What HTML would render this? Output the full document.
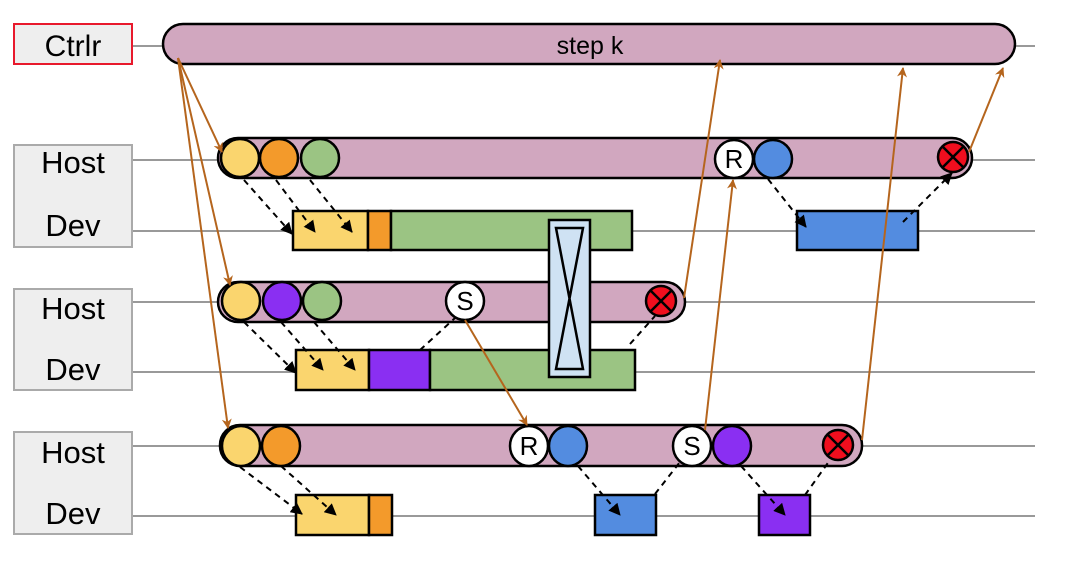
<!DOCTYPE html>
<html><head><style>body{margin:0;background:#fff}svg{display:block}</style></head><body>
<svg width="1080" height="577" viewBox="0 0 1080 577" xmlns="http://www.w3.org/2000/svg" font-family="Liberation Sans, sans-serif">
<defs>
<marker id="ab" markerWidth="10" markerHeight="10" refX="9" refY="5" orient="auto" markerUnits="userSpaceOnUse"><path d="M0,0 L10,5 L0,10 L3,5 Z" fill="#b5651d"/></marker>
<marker id="ak" markerWidth="12" markerHeight="12" refX="11" refY="6" orient="auto" markerUnits="userSpaceOnUse"><path d="M0,0 L12,6 L0,12 Z" fill="#000"/></marker>
</defs>
<g stroke="#999" stroke-width="2">
<line x1="132" y1="46" x2="1035" y2="46"/>
<line x1="132" y1="160" x2="1035" y2="160"/><line x1="132" y1="231" x2="1035" y2="231"/>
<line x1="132" y1="302" x2="1035" y2="302"/><line x1="132" y1="372" x2="1035" y2="372"/>
<line x1="132" y1="446" x2="1035" y2="446"/><line x1="132" y1="516" x2="1035" y2="516"/>
</g>
<rect x="14" y="24" width="118" height="40" fill="#eee" stroke="#e8192c" stroke-width="2"/>
<text x="73" y="56" font-size="30" text-anchor="middle">Ctrlr</text>
<g fill="#eee" stroke="#aaa" stroke-width="2">
<rect x="14" y="145" width="118" height="102"/><rect x="14" y="289" width="118" height="101"/><rect x="14" y="432" width="118" height="102"/>
</g>
<g font-size="31" text-anchor="middle">
<text x="73" y="173">Host</text><text x="73" y="236">Dev</text>
<text x="73" y="319">Host</text><text x="73" y="380">Dev</text>
<text x="73" y="463">Host</text><text x="73" y="524">Dev</text>
</g>
<g stroke="#000" stroke-width="2.5" fill="#d1a7bf">
<rect x="163" y="24" width="852" height="40" rx="20"/>
<rect x="218" y="138" width="754" height="40" rx="20"/>
<rect x="218" y="282" width="467" height="40" rx="20"/>
<rect x="220" y="425" width="642" height="41" rx="20"/>
</g>
<text x="590" y="54" font-size="25" text-anchor="middle">step k</text>
<g stroke="#000" stroke-width="2.5">
<rect x="293" y="211" width="75" height="39" fill="#fad56e"/><rect x="368" y="211" width="23" height="39" fill="#f39a2b"/><rect x="391" y="211" width="241" height="39" fill="#9bc483"/>
<rect x="797" y="211" width="121" height="39" fill="#538ce0"/>
<rect x="296" y="350" width="73" height="40" fill="#fad56e"/><rect x="369" y="350" width="61" height="40" fill="#8a2ff2"/><rect x="430" y="350" width="205" height="40" fill="#9bc483"/>
<rect x="296" y="495" width="73" height="40" fill="#fad56e"/><rect x="369" y="495" width="23" height="40" fill="#f39a2b"/>
<rect x="595" y="495" width="61" height="40" fill="#538ce0"/><rect x="759" y="495" width="51" height="40" fill="#8a2ff2"/>
<rect x="549" y="220" width="41" height="157" fill="#cfe2f3"/>
<path d="M556,228 L583,228 L556,369 L583,369 Z" fill="none"/>
<circle cx="240" cy="158" r="19" fill="#fad56e"/><circle cx="279" cy="158" r="19" fill="#f39a2b"/><circle cx="320" cy="158" r="19" fill="#9bc483"/>
<circle cx="734" cy="159" r="19" fill="#fff"/><circle cx="773" cy="159" r="19" fill="#538ce0"/>
<circle cx="953" cy="157" r="15" fill="#f00e1e"/>
<circle cx="241" cy="301" r="19" fill="#fad56e"/><circle cx="282" cy="301" r="19" fill="#8a2ff2"/><circle cx="322" cy="301" r="19" fill="#9bc483"/>
<circle cx="465" cy="301" r="19" fill="#fff"/><circle cx="661" cy="301" r="15" fill="#f00e1e"/>
<ellipse cx="241" cy="446" rx="19" ry="20" fill="#fad56e"/><ellipse cx="281" cy="446" rx="19" ry="20" fill="#f39a2b"/>
<ellipse cx="529" cy="446" rx="19" ry="20" fill="#fff"/><ellipse cx="568" cy="446" rx="19" ry="20" fill="#538ce0"/>
<ellipse cx="692" cy="446" rx="19" ry="20" fill="#fff"/><ellipse cx="732" cy="446" rx="19" ry="20" fill="#8a2ff2"/>
<circle cx="838" cy="445" r="15" fill="#f00e1e"/>
<path d="M943,147 L963,167 M963,147 L943,167 M651,291 L671,311 M671,291 L651,311 M828,435 L848,455 M848,435 L828,455"/>
</g>
<g font-size="26" text-anchor="middle"><text x="734" y="168">R</text><text x="465" y="310">S</text><text x="529" y="455">R</text><text x="692" y="455">S</text></g>
<g stroke="#000" stroke-width="2" stroke-dasharray="6,5" fill="none" marker-end="url(#ak)">
<line x1="244" y1="180" x2="292" y2="234"/><line x1="276" y1="180" x2="315" y2="232"/><line x1="310" y1="180" x2="352" y2="232"/>
<line x1="768" y1="179" x2="806" y2="227"/><line x1="903" y1="222" x2="952" y2="173"/>
<line x1="244" y1="322" x2="296" y2="373"/><line x1="281" y1="322" x2="323" y2="370"/><line x1="314" y1="322" x2="355" y2="370"/>
<line x1="240" y1="467" x2="302" y2="514"/><line x1="281" y1="466" x2="336" y2="515"/>
<line x1="578" y1="466" x2="620" y2="515"/><line x1="741" y1="466" x2="785" y2="515"/>
</g>
<g stroke="#000" stroke-width="2" stroke-dasharray="6,5">
<line x1="420" y1="350" x2="455" y2="318"/><line x1="630" y1="344" x2="655" y2="316"/>
<line x1="655" y1="494" x2="680" y2="462"/><line x1="805" y1="495" x2="830" y2="460"/>
</g>
<g stroke="#b5651d" stroke-width="2" fill="none" marker-end="url(#ab)">
<line x1="178" y1="58" x2="222" y2="152"/><line x1="178" y1="58" x2="230" y2="285"/><line x1="178" y1="58" x2="228" y2="428"/>
<line x1="969" y1="152" x2="1003" y2="68"/><line x1="684" y1="298" x2="720" y2="60"/>
<line x1="705" y1="430" x2="733" y2="180"/><line x1="862" y1="440" x2="903" y2="68"/>
<line x1="465" y1="320" x2="527" y2="425"/>
</g>
</svg>
</body></html>
